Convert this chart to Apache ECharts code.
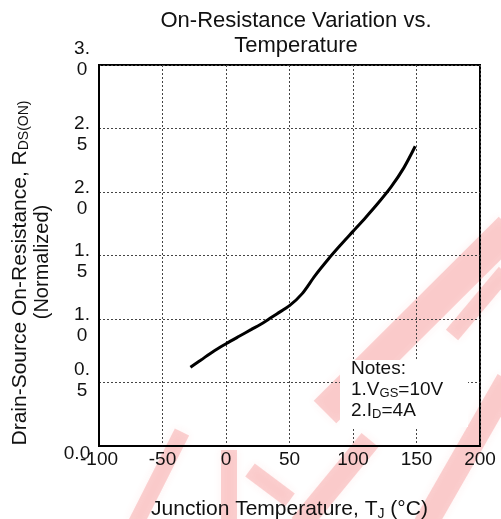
<!DOCTYPE html>
<html>
<head>
<meta charset="utf-8">
<script src="https://cdn.jsdelivr.net/npm/echarts@6/dist/echarts.min.js"></script>
<style>html,body{margin:0;padding:0;background:#fff;}#c{width:501px;height:519px;}</style>
</head>
<body>
<div id="c"></div>
<script>
// Data
const temperatures = [-28, -20, -10, 0, 10, 20, 30, 40, 50, 60, 70, 80, 90, 100, 110, 120, 130, 140, 149];
const rdsOn = [0.62, 0.675, 0.745, 0.805, 0.862, 0.918, 0.975, 1.04, 1.105, 1.20, 1.34, 1.465, 1.58, 1.69, 1.80, 1.915, 2.04, 2.19, 2.36];
const xTicks = [-100, -50, 0, 50, 100, 150, 200];
const yTicks = [0, 0.5, 1.0, 1.5, 2.0, 2.5, 3.0];
const yTickLabels = ['0.0', '0.\n5', '1.\n0', '1.\n5', '2.\n0', '2.\n5', '3.\n0'];
const titleText = 'On-Resistance Variation vs.\nTemperature';
const notesLines = ['Notes:', '1.V|GS|=10V', '2.I|D|=4A'];

const FONT = '"Liberation Sans", Arial, sans-serif';
const TXT = '#111';

function yLabel(v) {
  const i = yTicks.findIndex(t => Math.abs(t - v) < 1e-6);
  const lab = i >= 0 ? yTickLabels[i] : v.toFixed(1);
  const lines = lab.split('\n').map(l => '{n|' + l + '}');
  if (v === 0) return '{t16| }\n{z|' + lab + '}';
  if (Math.abs(v - 3) < 1e-6) return lines.join('\n') + '\n{t12| }';
  if (Math.abs(v - 0.5) < 1e-6) return lines.join('\n') + '\n{t4| }';
  return '{t12| }\n' + lines.join('\n');
}

function notesRich() {
  return notesLines.map(l => {
    const p = l.split('|');
    if (p.length === 1) return '{a|' + p[0] + '}';
    return '{a|' + p[0] + '}{s|' + p[1] + '}{a|' + p[2] + '}';
  }).join('\n');
}

function bandPoly(x1, y1, x2, y2, hw) {
  const dx = x2 - x1, dy = y2 - y1, L = Math.hypot(dx, dy);
  const px = -dy / L * hw, py = dx / L * hw;
  return [[x1 + px, y1 + py], [x2 + px, y2 + py], [x2 - px, y2 - py], [x1 - px, y1 - py]];
}
const wmColor = 'rgba(236,60,60,0.22)';
const wmBands = [
  [510, 228, 325, 412, 16],
  [508, 380, 425, 525, 12],
  [370, 440, 300, 525, 11],
  [229, 450, 229, 525, 8],
  [250, 470, 290, 500, 8],
  [182, 432, 135, 525, 8],
  [505, 272, 452, 335, 8]
];

const chart = echarts.init(document.getElementById('c'), null, {renderer: 'canvas'});
chart.setOption({
  animation: false,
  backgroundColor: '#fff',
  textStyle: {fontFamily: FONT, color: TXT},
  title: {
    text: titleText,
    left: 291, top: 3, textAlign: 'center',
    textStyle: {fontFamily: FONT, fontSize: 22, fontWeight: 'normal', color: TXT, lineHeight: 25}
  },
  grid: {left: 99, right: 21, top: 65, bottom: 73, containLabel: false, outerBoundsMode: 'none', show: true, borderColor: '#000', borderWidth: 2, backgroundColor: 'transparent'},
  xAxis: {
    type: 'value', min: -100, max: 200, interval: 50,
    name: '{a|Junction Temperature, T}{s|J}{a| (°C)}',
    nameLocation: 'middle', nameGap: 52,
    nameTextStyle: {rich: {
      a: {fontFamily: FONT, fontSize: 21, color: TXT, lineHeight: 23},
      s: {fontFamily: FONT, fontSize: 14, color: TXT, verticalAlign: 'bottom', lineHeight: 23}
    }},
    axisLine: {show: true, onZero: false, lineStyle: {color: '#000', width: 2}},
    axisTick: {show: false},
    axisLabel: {fontFamily: FONT, fontSize: 19, color: TXT, margin: 4},
    splitLine: {show: true, lineStyle: {color: '#444', width: 1, type: [2, 2]}}
  },
  yAxis: {
    type: 'value', min: 0, max: 3, interval: 0.5,
    name: '{a|Drain-Source On-Resistance, R}{s|DS(ON)}{p|}\n{b|(Normalized)}',
    nameLocation: 'middle', nameRotate: 90, nameGap: 44,
    nameTextStyle: {align: 'center', rich: {
      a: {fontFamily: FONT, fontSize: 21, color: TXT, lineHeight: 23},
      s: {fontFamily: FONT, fontSize: 14, color: TXT, verticalAlign: 'bottom', lineHeight: 23},
      p: {fontSize: 1, width: 35, lineHeight: 23},
      b: {fontFamily: FONT, fontSize: 20, color: TXT, lineHeight: 23, padding: [0, 13, 0, 0]}
    }},
    axisLine: {show: true, onZero: false, lineStyle: {color: '#000', width: 2}},
    axisTick: {show: false},
    axisLabel: {
      margin: 17, align: 'center',
      formatter: yLabel,
      rich: {
        n: {fontFamily: FONT, fontSize: 19, color: TXT, lineHeight: 21},
        z: {fontFamily: FONT, fontSize: 19, color: TXT, lineHeight: 21, padding: [0, 10, 0, 0]},
        t16: {fontSize: 1, lineHeight: 16},
        t12: {fontSize: 1, lineHeight: 12},
        t4: {fontSize: 1, lineHeight: 4}
      }
    },
    splitLine: {show: true, lineStyle: {color: '#444', width: 1, type: [2, 2]}}
  },
  graphic: {elements: wmBands.map(b => ({
    type: 'polygon', z: -10, silent: true,
    shape: {points: bandPoly(b[0], b[1], b[2], b[3], b[4])},
    style: {fill: wmColor, shadowBlur: 10, shadowColor: 'rgba(236,60,60,0.3)'}
  })).concat([
    {type: 'rect', z: 100, shape: {x: 340, y: 360, width: 128, height: 67}, style: {fill: '#fff'}},
    {type: 'text', z: 101, x: 351, y: 358, style: {
      text: notesRich(), textVerticalAlign: 'top', textAlign: 'left',
      rich: {
        a: {fontFamily: FONT, fontSize: 19, fill: TXT, lineHeight: 21},
        s: {fontFamily: FONT, fontSize: 13, fill: TXT, lineHeight: 21, verticalAlign: 'bottom'}
      }
    }}
  ])},
  series: [{
    type: 'line',
    data: temperatures.map((t, i) => [t, rdsOn[i]]),
    smooth: 0.3,
    showSymbol: false,
    lineStyle: {color: '#000', width: 3},
    z: 5
  }]
});
</script>
</body>
</html>
